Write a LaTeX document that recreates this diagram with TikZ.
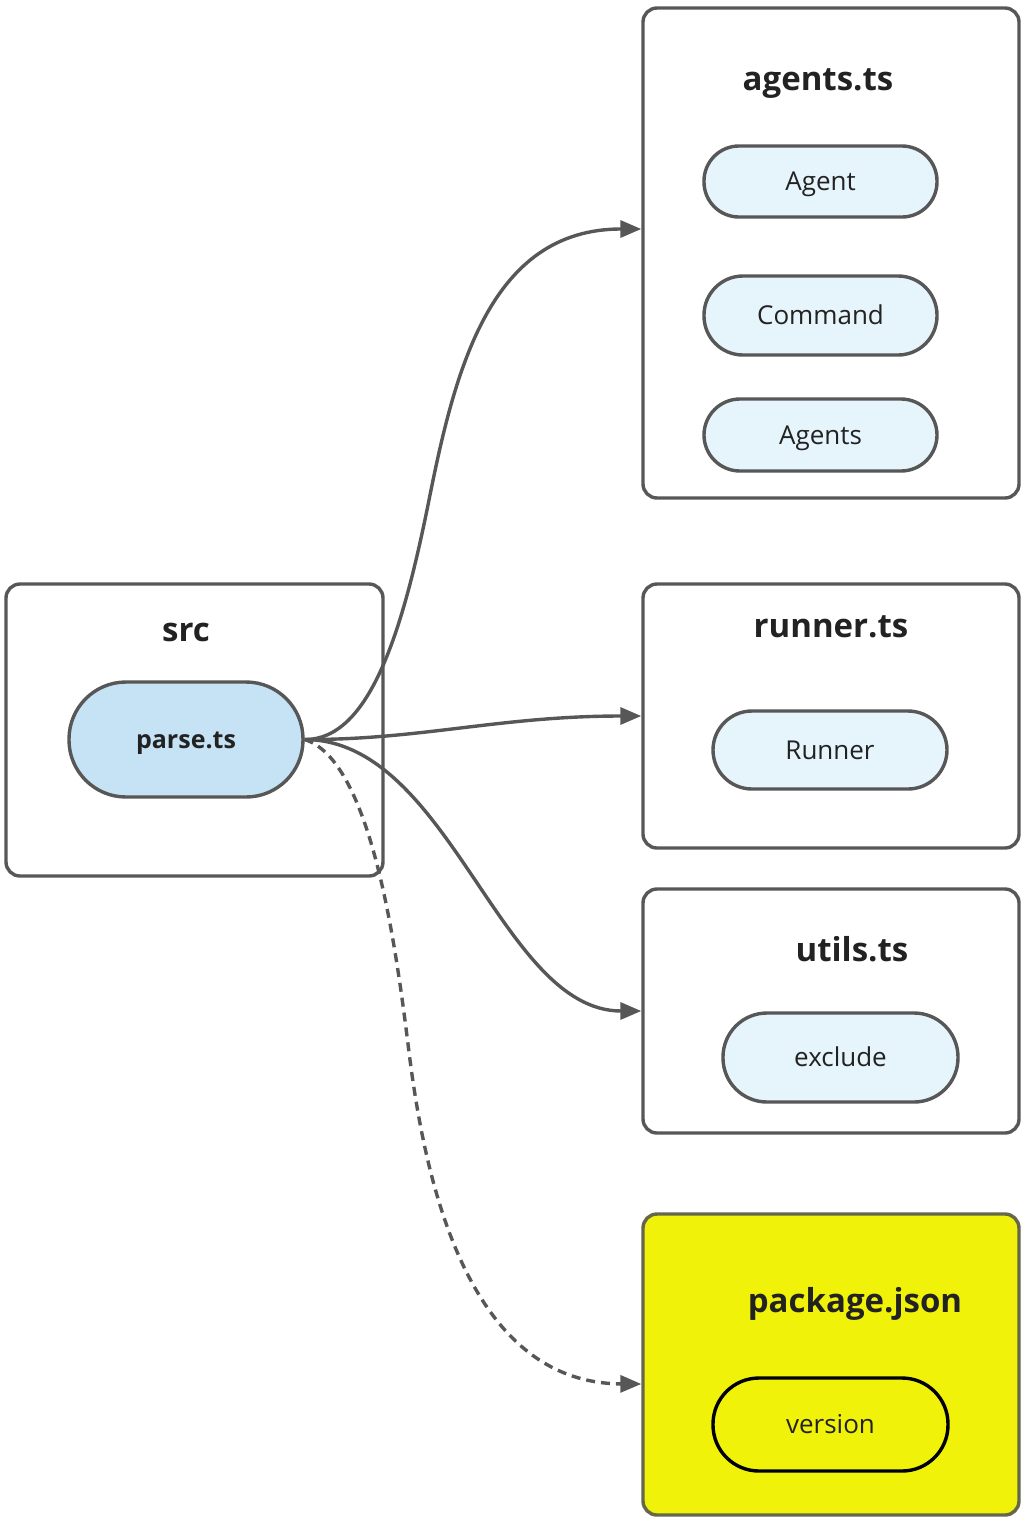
\documentclass[tikz,border=0pt]{standalone}
\usepackage{fontspec}
\setmainfont{Open Sans}
\usetikzlibrary{arrows.meta}
\definecolor{edgegray}{HTML}{575757}
\definecolor{pillblue}{HTML}{E6F4FB}
\definecolor{parseblue}{HTML}{C5E3F5}
\definecolor{pkgyellow}{HTML}{F0F20A}
\definecolor{pkgborder}{HTML}{66664A}
\definecolor{txt}{HTML}{222222}
\tikzset{
  filebox/.style={draw=edgegray, line width=3.4pt, rounded corners=14pt, fill=white, minimum width=376pt, inner sep=0pt},
  title/.style={font=\fontsize{33}{40}\selectfont\bfseries, text=txt, inner sep=0pt, text height=23.6pt, text depth=0pt},
  pill/.style={draw=edgegray, line width=3.4pt, fill=pillblue, minimum width=233pt, inner sep=0pt, font=\fontsize{26}{31}\selectfont, text=txt, text height=18.6pt, text depth=0pt},
  link/.style={draw=edgegray, line width=3.4pt, -{Triangle[length=21pt,width=17pt]}},
}
\begin{document}
\begin{tikzpicture}[x=1pt,y=-1pt]
\useasboundingbox (0,0) rectangle (1025,1524);
% boxes
\node[filebox, minimum height=490pt] (agents) at (831,253) {};
\node[filebox, minimum height=292pt, minimum width=377pt] (src) at (194.5,730) {};
\node[filebox, minimum height=264pt] (runner) at (831,716) {};
\node[filebox, minimum height=244pt] (utils) at (831,1011) {};
\node[filebox, minimum height=301pt, fill=pkgyellow, draw=pkgborder] (pkg) at (831,1364.5) {};
% titles
\node[title] (tagents) at (818,79) {agents.ts};
\node[title] (tsrc) at (186,630) {src};
\node[title] (trunner) at (831,626) {runner.ts};
\node[title] (tutils) at (852,950) {utils.ts};
\node[title] (tpkg) at (855,1301) {package.json};
% pills
\node[pill, minimum height=71pt, rounded corners=35pt] (agent) at (820.5,181.5) {Agent};
\node[pill, minimum height=79pt, rounded corners=39pt] (command) at (820.5,315.5) {Command};
\node[pill, minimum height=72pt, rounded corners=36pt] (agentsp) at (820.5,435) {Agents};
\node[pill, minimum height=78pt, rounded corners=39pt, minimum width=234pt] (runnerp) at (830,750) {Runner};
\node[pill, minimum height=89pt, rounded corners=44pt, minimum width=235pt] (exclude) at (840.5,1057.5) {exclude};
\node[pill, minimum height=93pt, rounded corners=46pt, minimum width=235pt, draw=black, fill=pkgyellow] (version) at (830.5,1424.5) {version};
\node[pill, minimum height=115pt, rounded corners=57pt, minimum width=234pt, fill=parseblue, font=\fontsize{25}{30}\selectfont\bfseries, text height=17.9pt] (parse) at (186,739.5) {parse.ts};
% edges
\coordinate (ea) at ([yshift=24pt]agents.west);
\coordinate (ep) at ([yshift=-19.5pt]pkg.west);
\draw[link] (parse.east) .. controls (370,740) and (403,630) .. (429,500)
  .. controls (455,370) and (490,229) .. (ea);
\draw[link] (parse.east) .. controls (420,740) and (500,716) .. (runner.west);
\draw[link] (parse.east) .. controls (450,740) and (500,1011) .. (utils.west);
\draw[link, dash pattern=on 9pt off 6pt] (parse.east) .. controls (370,760) and (395,940) .. (408,1044)
  .. controls (422,1160) and (460,1383) .. (ep);
\end{tikzpicture}
\end{document}
